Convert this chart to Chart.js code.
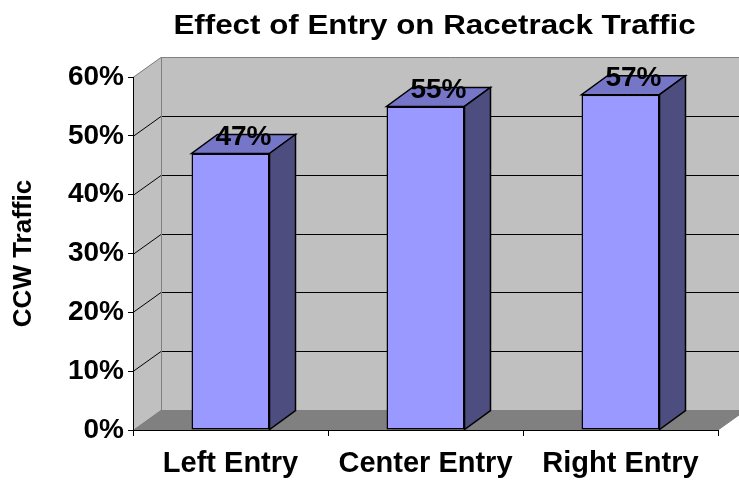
<!DOCTYPE html>
<html><head><meta charset="utf-8">
<script src="https://cdn.jsdelivr.net/npm/chart.js@4"></script>
<style>html,body{margin:0;padding:0;background:#fff}#wrap{width:739px;height:480px}</style>
</head><body><div id="wrap"><canvas id="c" width="739" height="480"></canvas></div>
<script>
const categories = ['Left Entry', 'Center Entry', 'Right Entry'];
const ccwShare = [0.47, 0.55, 0.57];
const yTicks = [0, 0.1, 0.2, 0.3, 0.4, 0.5, 0.6];
const chartTitle = 'Effect of Entry on Racetrack Traffic';
const yAxisTitle = 'CCW Traffic';

const FONT = '"Liberation Sans", Arial, sans-serif';
const WALL_DX = 28, WALL_DY = -20;
const BAR_DX = 26, BAR_DY = -19;

function poly(ctx, pts) {
  ctx.beginPath();
  ctx.moveTo(pts[0][0], pts[0][1]);
  for (let i = 1; i < pts.length; i++) ctx.lineTo(pts[i][0], pts[i][1]);
  ctx.closePath();
  ctx.fill();
  ctx.stroke();
}

const walls = {
  id: 'walls',
  beforeDraw(chart) {
    const {ctx, chartArea: a, scales: {y}} = chart;
    const W = chart.width;
    const bx = a.left + WALL_DX, by = a.bottom + WALL_DY, ty = a.top + WALL_DY;
    ctx.save();
    ctx.fillStyle = '#c0c0c0';
    ctx.fillRect(bx, ty, W - bx + 5, by - ty);
    ctx.beginPath();
    ctx.moveTo(a.left, a.bottom); ctx.lineTo(a.left, a.top); ctx.lineTo(bx, ty); ctx.lineTo(bx, by);
    ctx.closePath(); ctx.fill();
    ctx.fillStyle = '#808080';
    ctx.beginPath();
    ctx.moveTo(a.left, a.bottom); ctx.lineTo(bx, by); ctx.lineTo(a.right + WALL_DX, by); ctx.lineTo(a.right, a.bottom);
    ctx.closePath(); ctx.fill();
    ctx.lineWidth = 1;
    yTicks.forEach((v, i) => {
      const py = Math.round(y.getPixelForValue(v)) + 0.5;
      const edge = (i === 0 || i === yTicks.length - 1);
      ctx.strokeStyle = edge ? '#808080' : '#000';
      ctx.beginPath();
      ctx.moveTo(a.left, py); ctx.lineTo(bx, py + WALL_DY);
      if (i !== 0) ctx.lineTo(W + 5, py + WALL_DY);
      ctx.stroke();
    });
    ctx.strokeStyle = '#808080';
    ctx.beginPath(); ctx.moveTo(bx + 0.5, ty); ctx.lineTo(bx + 0.5, by); ctx.stroke();
    ctx.beginPath(); ctx.moveTo(a.right, a.bottom); ctx.lineTo(a.right + WALL_DX, by); ctx.stroke();
    ctx.restore();
  }
};

const bars3d = {
  id: 'bars3d',
  afterDatasetsDraw(chart) {
    const {ctx} = chart;
    const meta = chart.getDatasetMeta(0);
    ctx.save();
    ctx.lineWidth = 1.5; ctx.strokeStyle = '#000'; ctx.lineJoin = 'miter';
    meta.data.forEach(bar => {
      const {x, y, base, width} = bar.getProps(['x', 'y', 'base', 'width'], true);
      const l = x - width / 2, r = x + width / 2;
      ctx.fillStyle = '#7676c8';
      poly(ctx, [[l, y], [r, y], [r + BAR_DX, y + BAR_DY], [l + BAR_DX, y + BAR_DY]]);
      ctx.fillStyle = '#4d4d80';
      poly(ctx, [[r, y], [r + BAR_DX, y + BAR_DY], [r + BAR_DX, base + BAR_DY], [r, base]]);
    });
    ctx.fillStyle = '#000';
    ctx.font = 'bold 28px ' + FONT;
    ctx.textAlign = 'center';
    ctx.textBaseline = 'alphabetic';
    meta.data.forEach((bar, i) => {
      const {x, y} = bar.getProps(['x', 'y'], true);
      ctx.fillText(Math.round(ccwShare[i] * 100) + '%', x + BAR_DX / 2, y + BAR_DY / 2 + 1);
    });
    ctx.restore();
  },
  afterDraw(chart) {
    const {ctx} = chart;
    ctx.save();
    ctx.fillStyle = '#000';
    ctx.font = 'bold 27px ' + FONT;
    ctx.textAlign = 'center';
    ctx.textBaseline = 'alphabetic';
    ctx.translate(434.5, 34);
    ctx.scale(1.16, 1);
    ctx.fillText(chartTitle, 0, 0);
    ctx.restore();
  }
};

new Chart(document.getElementById('c'), {
  type: 'bar',
  data: {
    labels: categories,
    datasets: [{
      data: ccwShare,
      backgroundColor: '#9999ff',
      borderColor: '#000',
      borderWidth: 1.5,
      borderSkipped: false,
      categoryPercentage: 1,
      barPercentage: 0.4
    }]
  },
  options: {
    responsive: false,
    animation: false,
    layout: {padding: {top: 77, right: 21, left: 0, bottom: 0}},
    plugins: {legend: {display: false}, tooltip: {enabled: false}, title: {display: false}},
    scales: {
      x: {
        grid: {offset: true, drawOnChartArea: false, drawTicks: true, tickLength: 6, color: '#000', lineWidth: 1},
        border: {display: true, color: '#000', width: 1},
        ticks: {color: '#000', font: {family: FONT, size: 29, weight: 'bold'}, padding: 11, maxRotation: 0, autoSkip: false},
        afterFit(s) { s.height = 50; }
      },
      y: {
        min: 0, max: 0.6,
        afterBuildTicks(s) { s.ticks = yTicks.map(v => ({value: v})); },
        grid: {drawOnChartArea: false, drawTicks: true, tickLength: 5, color: '#000'},
        border: {display: true, color: '#000', width: 1},
        ticks: {callback: v => Math.round(v * 100) + '%', color: '#000', font: {family: FONT, size: 28, weight: 'bold'}, padding: 4},
        title: {display: true, text: yAxisTitle, color: '#000', font: {family: FONT, size: 26, weight: 'bold'}, padding: {top: 8, bottom: 0}},
        afterFit(s) { s.width = 133; }
      }
    }
  },
  plugins: [walls, bars3d]
});
</script>
</body></html>
